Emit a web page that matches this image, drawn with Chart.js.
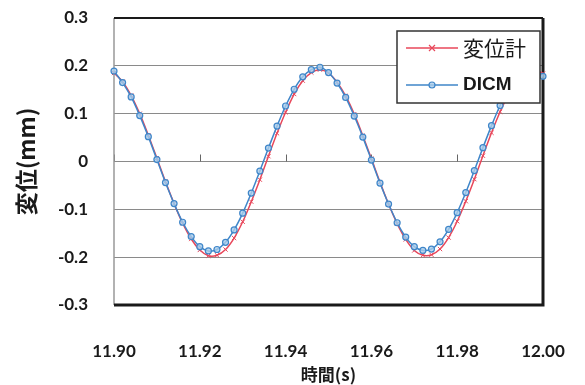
<!DOCTYPE html>
<html>
<head>
<meta charset="utf-8">
<script src="https://cdn.jsdelivr.net/npm/chart.js@4"></script>
<style>
  html, body { margin: 0; padding: 0; background: #fff; }
  #wrap { width: 585px; height: 385px; }
</style>
</head>
<body>
<div id="wrap"><canvas id="dispChart" width="585" height="385"></canvas></div>
<script>
// temps (s), pas de 0.002 s
const times = [
  11.900, 11.902, 11.904, 11.906, 11.908, 11.910, 11.912, 11.914, 11.916, 11.918,
  11.920, 11.922, 11.924, 11.926, 11.928, 11.930, 11.932, 11.934, 11.936, 11.938,
  11.940, 11.942, 11.944, 11.946, 11.948, 11.950, 11.952, 11.954, 11.956, 11.958,
  11.960, 11.962, 11.964, 11.966, 11.968, 11.970, 11.972, 11.974, 11.976, 11.978,
  11.980, 11.982, 11.984, 11.986, 11.988, 11.990, 11.992, 11.994, 11.996, 11.998,
  12.000
];

// 変位計 (mm)
const gaugeValues = [
  0.185, 0.167, 0.138, 0.100, 0.055, 0.007, -0.042, -0.088, -0.129, -0.162,
  -0.185, -0.197, -0.196, -0.184, -0.160, -0.126, -0.084, -0.038, 0.011, 0.059,
  0.103, 0.141, 0.169, 0.186, 0.192, 0.185, 0.166, 0.137, 0.099, 0.054,
  0.006, -0.043, -0.089, -0.130, -0.163, -0.186, -0.196, -0.195, -0.183, -0.159,
  -0.125, -0.083, -0.037, 0.012, 0.060, 0.104, 0.141, 0.168, 0.185, 0.191,
  0.184
];

// DICM (mm)
const dicmValues = [
  0.189, 0.165, 0.135, 0.096, 0.052, 0.004, -0.044, -0.088, -0.127, -0.157,
  -0.178, -0.187, -0.184, -0.169, -0.143, -0.108, -0.066, -0.020, 0.028, 0.074,
  0.116, 0.151, 0.177, 0.192, 0.197, 0.186, 0.164, 0.134, 0.095, 0.051,
  0.003, -0.045, -0.089, -0.128, -0.158, -0.178, -0.186, -0.183, -0.168, -0.142,
  -0.107, -0.065, -0.019, 0.029, 0.075, 0.117, 0.151, 0.176, 0.190, 0.193,
  0.178
];

const xTicks = [11.90, 11.92, 11.94, 11.96, 11.98, 12.00];
const yTicks = [-0.3, -0.2, -0.1, 0, 0.1, 0.2, 0.3];
const seriesNames = ["変位計", "DICM"];

const numFont = { family: "Lato, 'Liberation Sans', sans-serif", size: 17, weight: "bold" };
const jpFont = "'Noto Sans CJK JP', sans-serif";

// cadre de la zone de tracé + petites graduations sur l'axe 0
const frameAndTicks = {
  id: "frameAndTicks",
  beforeDatasetsDraw(chart) {
    const { ctx, chartArea: a, scales } = chart;
    ctx.save();
    // graduations sur la ligne du zéro
    const y0 = scales.y.getPixelForValue(0);
    ctx.strokeStyle = "#666";
    ctx.lineWidth = 1;
    xTicks.forEach((t) => {
      const x = Math.round(scales.x.getPixelForValue(t)) + 0.5;
      ctx.beginPath();
      ctx.moveTo(x, y0);
      ctx.lineTo(x, y0 - 7);
      ctx.stroke();
    });
    // bordure
    ctx.strokeStyle = "#999";
    ctx.lineWidth = 1.5;
    ctx.beginPath();
    ctx.moveTo(a.left, a.top);
    ctx.lineTo(a.left, a.bottom);
    ctx.stroke();
    ctx.strokeStyle = "#1a1a1a";
    ctx.lineWidth = 2;
    ctx.beginPath();
    ctx.moveTo(a.left, a.top);
    ctx.lineTo(a.right, a.top);
    ctx.stroke();
    ctx.lineWidth = 3;
    ctx.beginPath();
    ctx.moveTo(a.right, a.top);
    ctx.lineTo(a.right, a.bottom);
    ctx.lineTo(a.left, a.bottom);
    ctx.stroke();
    ctx.restore();
  },
  afterDraw(chart) {
    // légende encadrée dans la zone de tracé
    const { ctx, chartArea: a } = chart;
    const bx = a.right - 146, by = a.top + 13, bw = 143, bh = 72;
    ctx.save();
    ctx.fillStyle = "#fff";
    ctx.fillRect(bx, by, bw, bh);
    ctx.strokeStyle = "#333";
    ctx.lineWidth = 1.5;
    ctx.strokeRect(bx, by, bw, bh);
    chart.data.datasets.forEach((ds, i) => {
      const ly = by + 17 + i * 37;
      ctx.strokeStyle = ds.borderColor;
      ctx.lineWidth = 1.5;
      ctx.beginPath();
      ctx.moveTo(bx + 9, ly);
      ctx.lineTo(bx + 61, ly);
      ctx.stroke();
      const mx = bx + 35;
      ctx.lineWidth = 1.2;
      if (ds.pointStyle === "circle") {
        ctx.fillStyle = ds.pointBackgroundColor;
        ctx.beginPath();
        ctx.arc(mx, ly, 3, 0, Math.PI * 2);
        ctx.fill();
        ctx.stroke();
      } else {
        ctx.beginPath();
        ctx.moveTo(mx - 3, ly - 3); ctx.lineTo(mx + 3, ly + 3);
        ctx.moveTo(mx - 3, ly + 3); ctx.lineTo(mx + 3, ly - 3);
        ctx.stroke();
      }
      ctx.fillStyle = "#1a1a1a";
      ctx.textBaseline = "middle";
      ctx.textAlign = "left";
      ctx.font = i === 0 ? "21px " + jpFont : "bold 19px 'Liberation Sans', sans-serif";
      ctx.fillText(ds.label, bx + 66, ly);
    });
    ctx.restore();
  },
};

const ctx = document.getElementById("dispChart").getContext("2d");
const dispChart = new Chart(ctx, {
  type: "line",
  data: {
    datasets: [
      {
        label: seriesNames[0],
        data: times.map((t, i) => ({ x: t, y: gaugeValues[i] })),
        borderColor: "#e8475a",
        borderWidth: 1.5,
        pointStyle: "crossRot",
        pointRadius: 3,
        pointBorderColor: "#e8475a",
        pointBorderWidth: 1,
        pointBackgroundColor: "#e8475a",
        tension: 0.3,
        clip: false,
        order: 2,
      },
      {
        label: seriesNames[1],
        data: times.map((t, i) => ({ x: t, y: dicmValues[i] })),
        borderColor: "#3f86c9",
        borderWidth: 1.5,
        pointStyle: "circle",
        pointRadius: 3,
        pointBorderColor: "#3f86c9",
        pointBorderWidth: 1.2,
        pointBackgroundColor: "rgba(170,205,235,0.8)",
        tension: 0.3,
        clip: false,
        order: 1,
      },
    ],
  },
  options: {
    responsive: false,
    animation: false,
    layout: { padding: { top: 18, right: 42, left: 0, bottom: 0 } },
    plugins: {
      legend: { display: false },
      tooltip: { enabled: false },
    },
    scales: {
      x: {
        type: "linear",
        min: 11.9,
        max: 12.0,
        afterBuildTicks: (scale) => { scale.ticks = xTicks.map((v) => ({ value: v })); },
        afterFit: (scale) => {
          scale.height = 80;
          scale.paddingLeft = 0;
          scale.paddingRight = 0;
        },
        grid: { display: false, drawTicks: false },
        border: { display: false },
        ticks: {
          padding: 36,
          color: "#1a1a1a",
          font: numFont,
          maxRotation: 0,
          callback: (v) => Number(v).toFixed(2),
        },
        title: {
          display: true,
          text: "時間(s)",
          color: "#1a1a1a",
          font: { family: jpFont, size: 17, weight: "bold" },
          padding: { top: 0, bottom: 0 },
        },
      },
      y: {
        min: -0.3,
        max: 0.3,
        afterBuildTicks: (scale) => { scale.ticks = yTicks.map((v) => ({ value: v })); },
        afterFit: (scale) => {
          scale.width = 114;
          scale.paddingTop = 0;
          scale.paddingBottom = 0;
        },
        grid: { color: "#8a8a8a", lineWidth: 1, drawTicks: false },
        border: { display: false },
        ticks: {
          padding: 26,
          color: "#1a1a1a",
          font: numFont,
          callback: (v) => (Math.abs(v) < 1e-9 ? "0" : Number(v).toFixed(1)),
        },
        title: {
          display: true,
          text: "変位(mm)",
          color: "#1a1a1a",
          font: { family: jpFont, size: 23, weight: "bold" },
          padding: { top: 12, bottom: 0 },
        },
      },
    },
  },
  plugins: [frameAndTicks],
});
</script>
</body>
</html>
